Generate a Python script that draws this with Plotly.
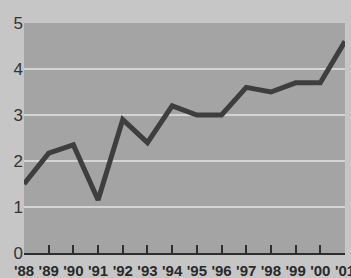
import plotly.graph_objects as go

years = [1988, 1989, 1990, 1991, 1992, 1993, 1994, 1995, 1996, 1997, 1998, 1999, 2000, 2001]
values = [1.5, 2.17, 2.35, 1.15, 2.9, 2.4, 3.2, 3.0, 3.0, 3.6, 3.5, 3.7, 3.7, 4.6]
x_tick_labels = ["'88", "'89", "'90", "'91", "'92", "'93", "'94", "'95", "'96", "'97", "'98", "'99", "'00", "'01"]
y_ticks = [0, 1, 2, 3, 4, 5]
grid_values = [1, 2, 3, 4]

fig = go.Figure()
fig.add_trace(go.Scatter(
    x=years, y=values, mode="lines",
    line=dict(color="#3e3e3e", width=5),
    showlegend=False, hoverinfo="skip",
))
# invisible trace on overlay axis for gridlines
fig.add_trace(go.Scatter(
    x=years, y=values, mode="lines", yaxis="y2",
    line=dict(color="rgba(0,0,0,0)", width=0),
    showlegend=False, hoverinfo="skip",
))

fig.update_layout(
    width=351, height=278,
    margin=dict(l=24, r=6, t=23, b=25, autoexpand=False),
    paper_bgcolor="#c6c6c6",
    plot_bgcolor="#a4a4a4",
    xaxis=dict(
        range=[1988, 2001], automargin=False,
        tickvals=years, ticktext=x_tick_labels, tickangle=0,
        ticks="inside", ticklen=8, tickwidth=1.5, tickcolor="#2e2e2e",
        showline=True, linecolor="#2e2e2e", linewidth=2,
        showgrid=False, zeroline=False,
        tickfont=dict(family="Liberation Sans", size=15, color="#2a2a2a", weight="bold"),
        ticklabelstandoff=3, ticklabeloverflow="allow",
    ),
    yaxis=dict(
        range=[0, 5], automargin=False,
        tickvals=y_ticks,
        showgrid=False, zeroline=False, showline=False, ticks="",
        tickfont=dict(family="Liberation Sans", size=17, color="#333333"),
        ticklabelstandoff=0,
    ),
    yaxis2=dict(
        range=[0, 5], overlaying="y", side="left", automargin=False,
        tickvals=grid_values, showticklabels=False,
        showgrid=True, gridcolor="#d4d4d4", gridwidth=1.5,
        zeroline=False, showline=False, ticks="",
        layer="below traces",
    ),
)
fig.write_html(
    "out.html",
    config={"displayModeBar": False},
    post_script="document.body.style.margin='0';document.body.style.overflow='hidden';document.body.style.background='#c6c6c6';",
)
